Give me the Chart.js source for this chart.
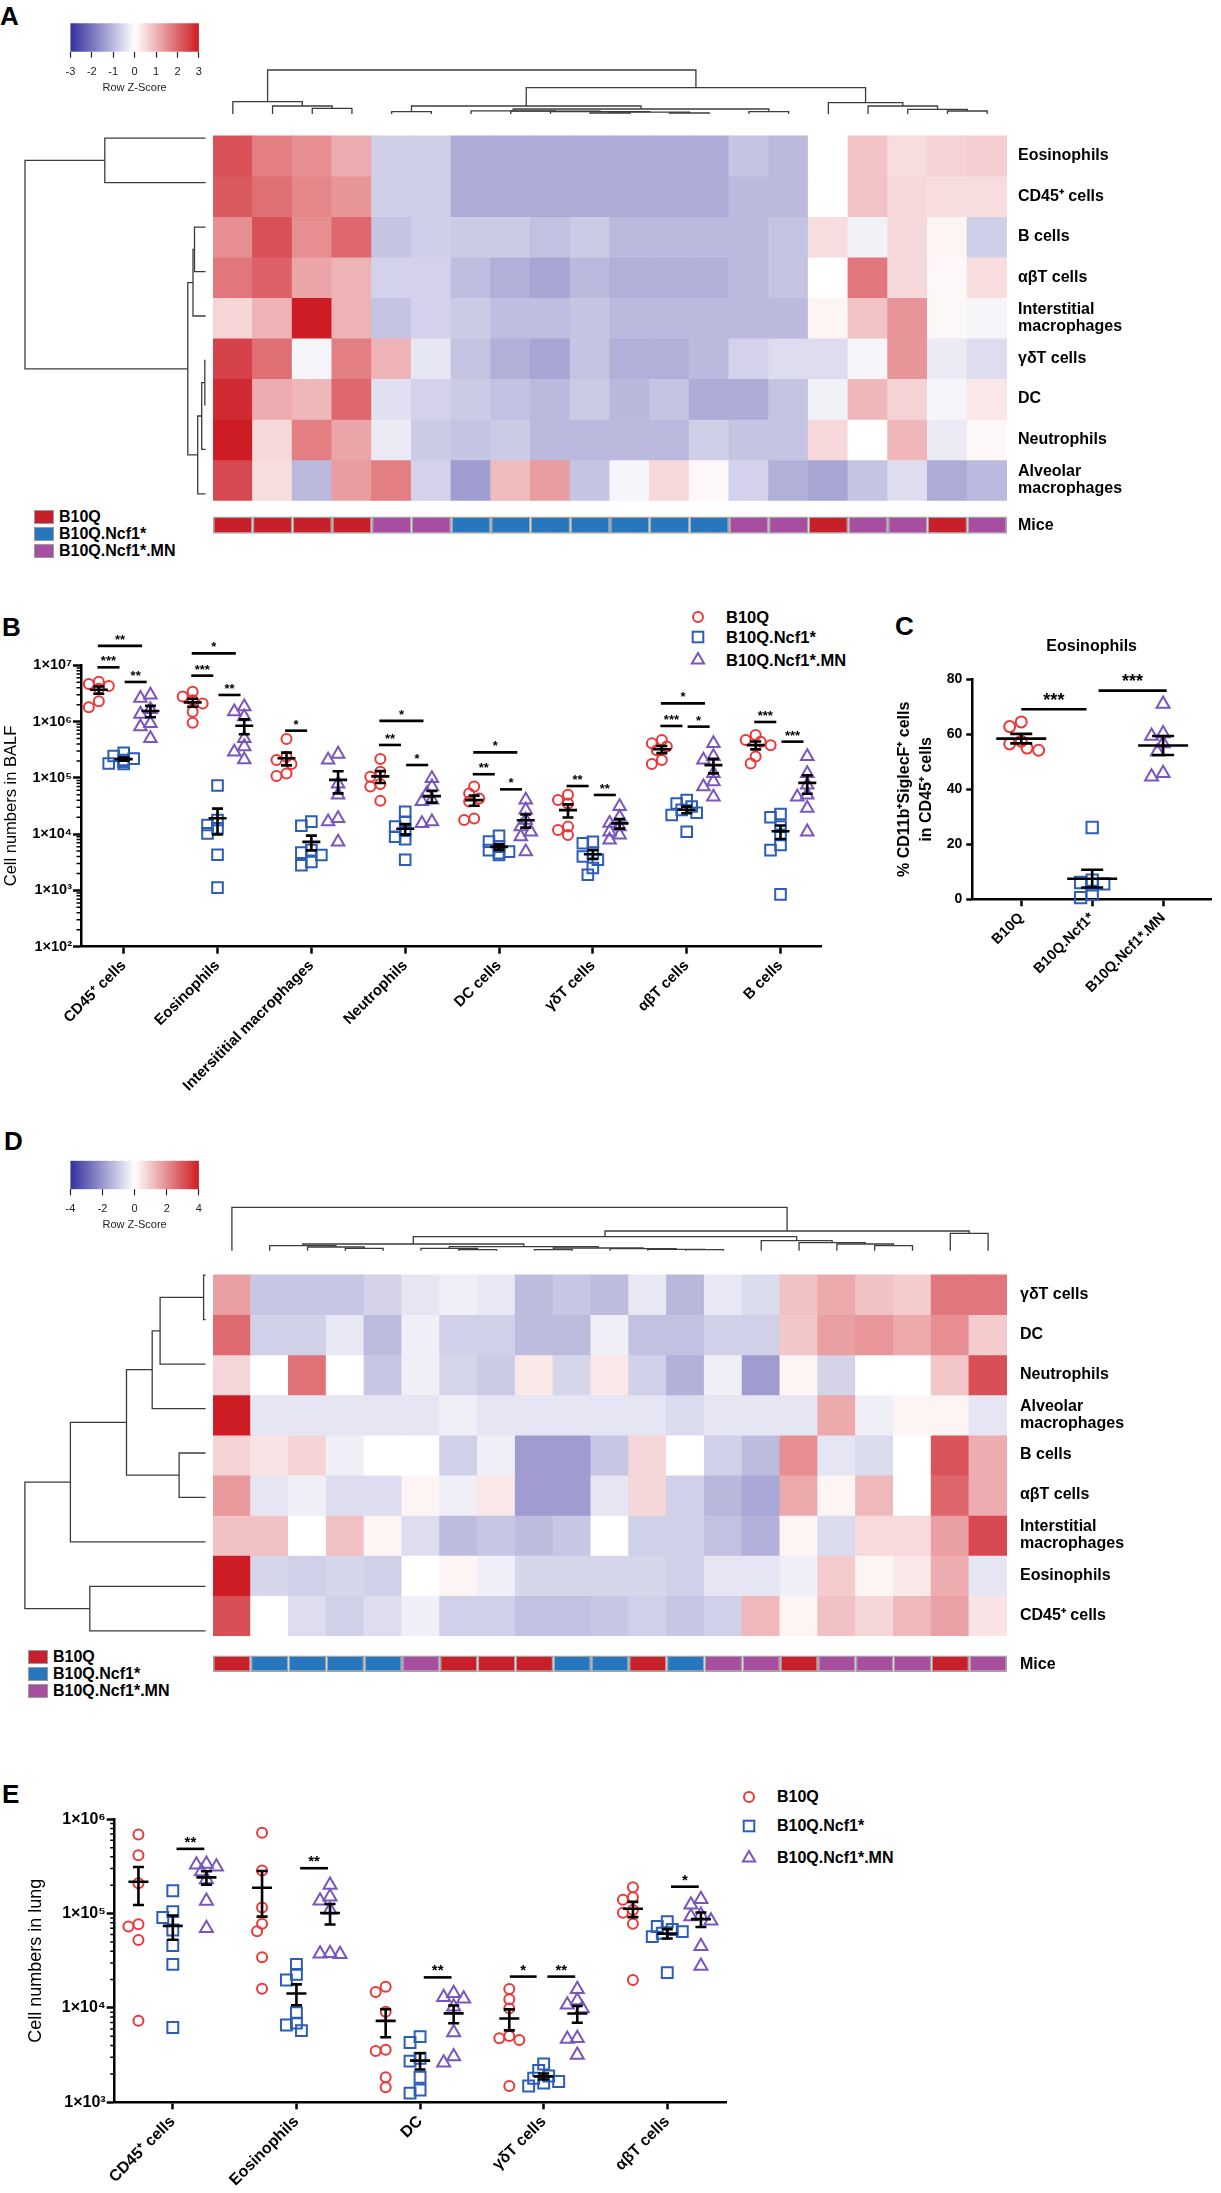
<!DOCTYPE html>
<html><head><meta charset="utf-8"><title>Figure</title>
<script src="https://cdn.jsdelivr.net/npm/chart.js@4.4.1/dist/chart.umd.min.js"></script>
<style>
html,body{margin:0;padding:0;background:#fff;}
body{position:relative;width:1221px;height:2193px;overflow:hidden;font-family:"Liberation Sans",Arial,Helvetica,sans-serif;color:#000;}
canvas{position:absolute;}
.t{position:absolute;white-space:nowrap;font-weight:bold;}
.letter{font-size:26px;line-height:26px;}
.lg{font-size:16px;line-height:16px;}
.box{position:absolute;border:1.5px solid #9b9b9b;box-sizing:border-box;width:20px;height:13.5px;}
svg{position:absolute;overflow:visible;}
</style></head><body>
<div class="t letter" style="left:0;top:3px">A</div>
<div class="t letter" style="left:2px;top:614px">B</div>
<div class="t letter" style="left:895px;top:613px">C</div>
<div class="t letter" style="left:4px;top:1128px">D</div>
<div class="t letter" style="left:2px;top:1781px">E</div>

<!-- heatmap annotation legends -->
<div class="box" style="left:34px;top:510px;background:#c8202a"></div>
<div class="box" style="left:34px;top:527px;background:#2677bd"></div>
<div class="box" style="left:34px;top:544px;background:#a84ea0"></div>
<div class="t lg" style="left:59px;top:509px">B10Q</div>
<div class="t lg" style="left:59px;top:526px">B10Q.Ncf1*</div>
<div class="t lg" style="left:59px;top:543px">B10Q.Ncf1*.MN</div>

<div class="box" style="left:28px;top:1650px;background:#c8202a"></div>
<div class="box" style="left:28px;top:1667px;background:#2677bd"></div>
<div class="box" style="left:28px;top:1684px;background:#a84ea0"></div>
<div class="t lg" style="left:53px;top:1649px">B10Q</div>
<div class="t lg" style="left:53px;top:1666px">B10Q.Ncf1*</div>
<div class="t lg" style="left:53px;top:1683px">B10Q.Ncf1*.MN</div>

<!-- B legend -->
<svg style="left:688px;top:607px" width="20" height="20"><circle cx="10" cy="10" r="5" fill="none" stroke="#ec3838" stroke-width="2"/></svg>
<svg style="left:688px;top:627px" width="20" height="20"><rect x="4.7" y="4.7" width="10.6" height="10.6" fill="none" stroke="#2c5db7" stroke-width="2"/></svg>
<svg style="left:688px;top:650px" width="20" height="20"><polygon points="10,3 16.1,13.5 3.9,13.5" fill="none" stroke="#7a55bd" stroke-width="2"/></svg>
<div class="t lg" style="left:726px;top:609px;font-size:16.5px">B10Q</div>
<div class="t lg" style="left:726px;top:629px;font-size:16.5px">B10Q.Ncf1*</div>
<div class="t lg" style="left:726px;top:652px;font-size:16.5px">B10Q.Ncf1*.MN</div>

<!-- E legend -->
<svg style="left:739px;top:1787px" width="20" height="20"><circle cx="10" cy="10" r="5" fill="none" stroke="#ec3838" stroke-width="2"/></svg>
<svg style="left:739px;top:1816px" width="20" height="20"><rect x="4.7" y="4.7" width="10.6" height="10.6" fill="none" stroke="#2c5db7" stroke-width="2"/></svg>
<svg style="left:739px;top:1848px" width="20" height="20"><polygon points="10,3 16.1,13.5 3.9,13.5" fill="none" stroke="#7a55bd" stroke-width="2"/></svg>
<div class="t lg" style="left:777px;top:1789px">B10Q</div>
<div class="t lg" style="left:777px;top:1818px">B10Q.Ncf1*</div>
<div class="t lg" style="left:777px;top:1850px">B10Q.Ncf1*.MN</div>

<script>
// ====================== DATA ======================
const groupNames = ['B10Q', 'B10Q.Ncf1*', 'B10Q.Ncf1*.MN'];

// ---- Panel A heatmap (row z-scores, BALF) ----
const aRowLabels = ['Eosinophils', 'CD45⁺ cells', 'B cells', 'αβT cells', ['Interstitial', 'macrophages'],
  'γδT cells', 'DC', 'Neutrophils', ['Alveolar', 'macrophages']];
const aMice = [0,0,0,0,2,2,1,1,1,1,1,1,1,2,2,0,2,2,0,2];
const aZ = [
  [2.3,1.7,1.5,1.1,-0.7,-0.7,-1.2,-1.2,-1.2,-1.2,-1.2,-1.2,-1.2,-0.85,-1.0,0,0.8,0.45,0.6,0.65],
  [2.2,1.9,1.6,1.4,-0.7,-0.7,-1.2,-1.2,-1.2,-1.2,-1.2,-1.2,-1.2,-1.0,-1.0,0,0.8,0.5,0.45,0.45],
  [1.5,2.3,1.5,2.0,-0.85,-0.7,-0.75,-0.75,-0.9,-0.75,-1.0,-1.0,-1.0,-1.0,-0.85,0.45,-0.2,0.5,0.15,-0.7],
  [1.8,2.1,1.2,1.0,-0.65,-0.65,-0.95,-1.15,-1.3,-1.0,-1.15,-1.15,-1.15,-1.0,-0.85,0,1.8,0.5,0.1,0.45],
  [0.55,1.0,3.0,1.0,-0.85,-0.65,-0.75,-0.95,-0.95,-0.85,-1.0,-1.0,-1.0,-1.0,-1.0,0.15,0.8,1.4,0.1,-0.15],
  [2.5,1.9,-0.15,1.7,1.0,-0.35,-0.85,-1.15,-1.3,-0.85,-1.15,-1.15,-1.0,-0.65,-0.5,-0.5,-0.15,1.4,-0.3,-0.5],
  [2.8,1.1,0.95,2.0,-0.45,-0.65,-0.75,-0.9,-1.0,-0.75,-1.05,-0.85,-1.2,-1.2,-0.85,-0.2,0.95,0.6,-0.15,0.3],
  [3.0,0.5,1.7,1.2,-0.3,-0.75,-0.85,-0.75,-1.0,-1.0,-1.0,-1.0,-0.7,-0.85,-0.85,0.5,0,0.95,-0.3,0.1],
  [2.4,0.45,-1.0,1.3,1.7,-0.65,-1.4,0.9,1.3,-0.85,-0.15,0.5,0.1,-0.65,-1.15,-1.3,-0.85,-0.5,-1.2,-1.0]
];
const aKeyTicks = [-3,-2,-1,0,1,2,3];
// linkage: [childA, childB, height]; leaves 0..n-1, merge k gets id n+k
const aRowLinkage = [[2,3,11.1],[9,4,12.6],[5,6,0.8],[11,7,3.9],[12,8,7.9],[10,13,17.8],[0,1,100.8],[15,14,180.6]];
const aColLinkage = [[2,3,5.7],[1,20,8],[0,21,12.3],[4,5,2.3],[9,10,1.0],[11,12,1.0],[24,25,1.8],[8,26,2.4],
  [7,27,2.8],[6,28,3.2],[13,14,2.3],[29,30,5],[23,31,8],[18,19,3],[17,33,4.7],[16,34,8],[15,35,11.3],[32,36,26.3],[22,37,44]];

// ---- Panel B: cell numbers in BALF ----
const bCats = ['CD45⁺ cells','Eosinophils','Intersititial macrophages','Neutrophils','DC cells','γδT cells','αβT cells','B cells'];
const bB10Q = [
  [5.1e6,4.65e6,4.3e6,3.85e6,2.3e6,1.8e6],
  [3.4e6,2.8e6,2.4e6,2.1e6,1.5e6,9.5e5],
  [4.9e5,2.38e5,2.08e5,1.77e5,1.2e5,1.08e5],
  [2.16e5,1.29e5,1.05e5,7.8e4,7e4,3.9e4],
  [7e4,5.3e4,4.3e4,3.8e4,1.9e4,1.78e4],
  [5e4,4.05e4,3.5e4,1.36e4,1.18e4,9.7e3],
  [4.7e5,4.1e5,3.6e5,3.1e5,2.08e5,1.76e5],
  [5.8e5,4.7e5,4.4e5,3.8e5,2.4e5,1.8e5]
];
const bNcf1 = [
  [2.8e5,2.45e5,2.2e5,2.08e5,1.94e5,1.8e5,1.77e5],
  [7.3e4,1.78e4,1.45e4,1.27e4,1.03e4,4.3e3,1.12e3],
  [1.67e4,1.41e4,5.2e3,4.7e3,4.25e3,3.2e3,2.8e3],
  [2.5e4,1.66e4,1.36e4,1.15e4,9e3,8.1e3,3.5e3],
  [9.3e3,7.35e3,6e3,5.2e3,4.9e3,4.6e3,4.26e3],
  [7.3e3,6.9e3,4.6e3,4e3,3.5e3,2.5e3,1.9e3],
  [4.05e4,3.5e4,3.1e4,2.7e4,2.4e4,2.19e4,1.1e4],
  [2.28e4,2e4,1.36e4,9.7e3,6.4e3,5.2e3,850]
];
const bMN = [
  [2.97e6,2.6e6,1.65e6,1.36e6,9.3e5,8.1e5,5.0e5],
  [1.84e6,1.5e6,1.22e6,5e5,3.6e5,2.9e5,2.1e5],
  [2.65e5,2.08e5,7.8e4,5e4,1.9e4,1.67e4,7.3e3],
  [9.8e4,7e4,5.3e4,4.05e4,3.8e4,1.66e4,1.55e4],
  [4.05e4,2.7e4,1.78e4,1.36e4,1.1e4,9e3,4.9e3],
  [3.1e4,2e4,1.56e4,1.36e4,1.1e4,9.7e3,7.9e3],
  [4.1e5,2.4e5,2.08e5,1.2e5,8.6e4,7e4,4.6e4],
  [2.4e5,1.2e5,7.5e4,5e4,4.6e4,2.9e4,1.1e4]
];
const bYTicks = [1e2,1e3,1e4,1e5,1e6,1e7];
const bYLabels = ['1×10²','1×10³','1×10⁴','1×10⁵','1×10⁶','1×10⁷'];
// [category, group1, group2, bar level, label]
const bSig = [
  [0,0,1,9.2e6,'***'],[0,0,2,2.21e7,'**'],[0,1,2,5.06e6,'**'],
  [1,0,1,6.55e6,'***'],[1,0,2,1.63e7,'*'],[1,1,2,2.97e6,'**'],
  [2,0,1,6.9e5,'*'],
  [3,0,1,3.84e5,'**'],[3,0,2,1.03e6,'*'],[3,1,2,1.69e5,'*'],
  [4,0,1,1.16e5,'**'],[4,0,2,2.84e5,'*'],[4,1,2,6.25e4,'*'],
  [5,0,1,7.16e4,'**'],[5,1,2,4.97e4,'**'],
  [6,0,2,2.11e6,'*'],[6,0,1,8.36e5,'***'],[6,1,2,8.13e5,'*'],
  [7,0,1,9.84e5,'***'],[7,1,2,4.4e5,'***']
];

// ---- Panel C: % CD11b+SiglecF+ eosinophils ----
const cCats = ['B10Q','B10Q.Ncf1*','B10Q.Ncf1*.MN'];
const cB10Q = [64.5,62.8,57.5,56.5,55,54.2];
const cNcf1 = [26.1,7.0,6.1,5.6,5.3,1.8,0.6];
const cMN = [71.0,60.3,59.4,56.7,53.7,45.8,44.6];
const cYTicks = [0,20,40,60,80];
const cSig = [[0,0,1,69.1,'***'],[0,1,2,75.9,'***']];

// ---- Panel D heatmap (row z-scores, lung) ----
const dRowLabels = ['γδT cells','DC','Neutrophils',['Alveolar','macrophages'],'B cells','αβT cells',
  ['Interstitial','macrophages'],'Eosinophils','CD45⁺ cells'];
const dMice = [0,1,1,1,1,2,0,0,0,1,1,0,1,2,2,0,2,2,2,0,2];
const dZ = [
  [1.7,-1.1,-1.1,-1.1,-0.85,-0.5,-0.3,-0.45,-1.3,-1.1,-1.3,-0.45,-1.4,-0.45,-0.7,1.1,1.5,1.1,0.9,2.4,2.4],
  [2.6,-0.9,-0.9,-0.45,-1.3,-0.3,-0.9,-0.9,-1.3,-1.3,-0.3,-1.2,-1.2,-0.9,-0.9,1.0,1.7,1.85,1.5,2.0,0.9],
  [0.7,0,2.5,0,-1.1,-0.3,-0.8,-1.0,0.4,-0.8,0.4,-0.9,-1.5,-0.3,-1.9,0.2,-0.85,0,0,1.0,3.1],
  [4.0,-0.5,-0.5,-0.5,-0.5,-0.5,-0.3,-0.5,-0.5,-0.5,-0.5,-0.5,-0.7,-0.5,-0.5,-0.5,1.5,-0.3,0.2,0.2,-0.5],
  [0.8,0.5,0.75,-0.3,0,0,-0.9,-0.3,-1.9,-1.9,-1.1,0.7,0,-0.9,-1.3,2.0,-0.5,-0.7,0,3.0,1.45],
  [1.8,-0.5,-0.3,-0.65,-0.65,0.2,-0.3,0.4,-1.9,-1.9,-0.5,0.7,-0.9,-1.4,-1.7,1.5,0.2,1.25,0,2.7,1.45],
  [1.1,1.1,0,1.1,0.2,-0.65,-1.3,-1.1,-1.3,-1.1,0,-0.9,-0.9,-1.2,-1.5,0.2,-0.7,0.65,0.65,1.7,3.2],
  [4.0,-0.8,-0.9,-0.8,-0.9,0,0.2,-0.3,-0.8,-0.8,-0.8,-0.8,-0.9,-0.5,-0.5,-0.3,0.9,0.2,0.4,1.45,-0.5],
  [3.1,0,-0.65,-0.9,-0.65,-0.3,-0.9,-0.9,-1.2,-1.2,-1.1,-0.9,-1.1,-0.9,1.25,0.2,1.1,0.7,1.25,1.65,0.5]
];
const dKeyTicks = [-4,-2,0,2,4];
const dRowLinkage = [[0,1,2],[9,2,45.5],[10,3,53.4],[4,5,26.5],[11,12,79.1],[13,6,135.2],[7,8,115.8],[14,15,180.7]];
const dColLinkage = [[3,4,2.4],[2,21,3.7],[1,22,5],[6,7,1],[5,24,2.4],[8,9,1],[12,13,1],[11,27,1.4],[10,28,2],
  [26,29,2.7],[25,30,4],[23,31,6.7],[17,18,5],[16,33,6.7],[15,34,8],[14,35,10],[32,36,14],[19,20,17.4],[37,38,19.7],[0,39,43.4]];

// ---- Panel E: cell numbers in lung ----
const eCats = ['CD45⁺ cells','Eosinophils','DC','γδT cells','αβT cells'];
const eB10Q = [
  [6.9e5,4.15e5,2.1e5,7.7e4,7.3e4,5.25e4,7.3e3],
  [7.2e5,2.86e5,1.16e5,7.8e4,6.5e4,3.44e4,1.6e4],
  [1.68e4,1.48e4,9.1e3,3.6e3,3.5e3,1.84e3,1.44e3],
  [1.59e4,1.24e4,9.9e3,5.05e3,4.77e3,4.58e3,1.49e3],
  [1.9e5,1.49e5,1.4e5,1.09e5,1.02e5,7.8e4,1.98e4]
];
const eNcf1 = [
  [1.75e5,1.05e5,9.1e4,6.7e4,4.6e4,2.9e4,6.2e3],
  [2.9e4,2.27e4,1.98e4,8.9e3,6.9e3,6.6e3,5.75e3],
  [4.97e3,4.3e3,2.93e3,2.73e3,1.84e3,1.35e3,1.25e3],
  [2.55e3,2.17e3,1.9e3,1.8e3,1.66e3,1.6e3,1.49e3],
  [8.2e4,7.3e4,6.8e4,6.45e4,6.2e4,5.7e4,2.37e4]
];
const eMN = [
  [3.36e5,3.3e5,3.15e5,2.79e5,2.3e5,1.36e5,7e4],
  [2.01e5,1.51e5,1.37e5,1.09e5,3.8e4,3.75e4,3.7e4],
  [1.43e4,1.3e4,1.25e4,1.03e4,5.5e3,3.05e3,2.63e3],
  [1.58e4,1.2e4,1.08e4,9.9e3,4.77e3,4.7e3,3.18e3],
  [1.42e5,1.24e5,9.7e4,9.3e4,8.4e4,4.5e4,2.79e4]
];
const eYTicks = [1e3,1e4,1e5,1e6];
const eYLabels = ['1×10³','1×10⁴','1×10⁵','1×10⁶'];
const eSig = [[0,1,2,4.86e5,'**'],[1,1,2,3.03e5,'**'],[2,1,2,2.11e4,'**'],[3,0,1,2.15e4,'*'],[3,1,2,2.15e4,'**'],[4,1,2,1.93e5,'*']];

// ====================== RENDERING ======================
Chart.defaults.font.family = '"Liberation Sans", Arial, Helvetica, sans-serif';
Chart.defaults.color = '#000';
Chart.defaults.animation = false;
Chart.defaults.responsive = false;
Chart.defaults.maintainAspectRatio = false;
Chart.defaults.plugins.legend.display = false;
Chart.defaults.plugins.tooltip.enabled = false;
Chart.defaults.events = [];

const BLUE_END = [52,48,156], RED_END = [205,28,36];
function zColor(z, zmax){
  const t = Math.max(-1, Math.min(1, z / zmax));
  const c = t < 0 ? BLUE_END : RED_END, f = Math.abs(t);
  return 'rgb(' + c.map(v => Math.round(255 + (v - 255) * f)).join(',') + ')';
}
const miceColors = ['#c8202a','#2677bd','#a84ea0'];

function mkCanvas(left, top, w, h){
  const c = document.createElement('canvas');
  c.width = w; c.height = h;
  Object.assign(c.style, {left: left+'px', top: top+'px', width: w+'px', height: h+'px'});
  document.body.appendChild(c);
  return c;
}

function drawHeatmap(left, top, width, height, plotW, z, zmax, mice, rowLabels, miceRange, miceTick, labelPad){
  const cv = mkCanvas(left, top, width, height);
  const ds = z.map((row, r) => ({
    data: row.map(() => [r, r + 1]),
    backgroundColor: row.map(v => zColor(v, zmax)),
    borderWidth: 0, inflateAmount: 0.6, grouped: false, barPercentage: 1, categoryPercentage: 1
  }));
  ds.push({
    data: mice.map(() => miceRange),
    backgroundColor: mice.map(g => miceColors[g]),
    borderColor: '#a3a3a3', borderWidth: 1.4, borderSkipped: false, inflateAmount: 0,
    grouped: false, barPercentage: 1, categoryPercentage: 1
  });
  const labels = rowLabels.concat(['Mice']);
  const tickVals = rowLabels.map((_, i) => i + 0.5).concat([miceTick]);
  new Chart(cv, {
    type: 'bar',
    data: {labels: mice.map((_, i) => 'S' + (i + 1)), datasets: ds},
    options: {
      layout: {padding: 0},
      scales: {
        x: {display: false},
        y: {position: 'right', min: 0, max: 10, reverse: true,
          grid: {display: false, drawTicks: false}, border: {display: false},
          afterBuildTicks: s => { s.ticks = tickVals.map(v => ({value: v})); },
          afterFit: s => { s.width = width - plotW; },
          ticks: {padding: labelPad, autoSkip: false, color: '#000',
            font: {size: 16, weight: 'bold', lineHeight: 1.05},
            callback: (v, i) => labels[i]}}
      }
    }
  });
}

function drawKey(left, top, w, h, padL, padR, padT, axisH, ticks, tickPad, titlePadB){
  const cv = mkCanvas(left, top, w, h);
  new Chart(cv, {
    type: 'bar',
    data: {labels: ['key'], datasets: [{
      data: [[ticks[0], ticks[ticks.length - 1]]],
      backgroundColor: (c) => {
        const ch = c.chart, a = ch.chartArea;
        if (!a) return '#ffffff';
        const g = ch.ctx.createLinearGradient(a.left, 0, a.right, 0);
        g.addColorStop(0, zColor(-1, 1)); g.addColorStop(0.5, '#ffffff'); g.addColorStop(1, zColor(1, 1));
        return g;
      },
      borderWidth: 0, barPercentage: 1, categoryPercentage: 1
    }]},
    options: {
      indexAxis: 'y',
      layout: {padding: {left: padL, right: padR, top: padT, bottom: 0}},
      scales: {
        y: {display: false},
        x: {min: ticks[0], max: ticks[ticks.length - 1],
          afterBuildTicks: s => { s.ticks = ticks.map(v => ({value: v})); },
          afterFit: s => { s.height = axisH; },
          grid: {drawOnChartArea: false, drawTicks: true, tickLength: 6, tickWidth: 1.2, tickColor: '#222'},
          border: {display: false},
          ticks: {padding: tickPad, font: {size: 11}, color: '#222', autoSkip: false, maxRotation: 0},
          title: {display: true, text: 'Row Z-Score', font: {size: 11}, color: '#222', padding: {top: 0, bottom: titlePadB}}}
      }
    }
  });
}

function drawDendro(left, top, w, h, n, links, orient, lo, hi){
  const cv = mkCanvas(left, top, w, h);
  const pos = [], ht = [];
  for (let i = 0; i < n; i++) { pos.push(i + 0.5); ht.push(0); }
  links.forEach(([a, b, hh]) => { pos.push((pos[a] + pos[b]) / 2); ht.push(hh); });
  const ds = links.map(([a, b, hh]) => {
    const pts = [[pos[a], ht[a]], [pos[a], hh], [pos[b], hh], [pos[b], ht[b]]];
    return {data: pts.map(([p, q]) => orient === 'col' ? {x: p, y: q} : {x: q, y: p}),
      showLine: true, pointRadius: 0, borderColor: '#3c3c3c', borderWidth: 1.3, clip: false, tension: 0};
  });
  const posAxis = {type: 'linear', display: false, min: 0, max: n};
  const hAxis = {type: 'linear', display: false, min: lo, max: hi};
  new Chart(cv, {type: 'scatter', data: {datasets: ds}, options: {layout: {padding: 0},
    scales: orient === 'col' ? {x: posAxis, y: hAxis} : {x: Object.assign({}, hAxis, {reverse: true}), y: Object.assign({}, posAxis, {reverse: true})}}});
}

function swarm(vals, toPx, catPx, dMin, step){
  const placed = [], off = [];
  vals.forEach(v => {
    const py = toPx(v); let chosen = 0;
    for (const c of [0,-1,1,-2,2,-3,3]) {
      const px = c * step;
      if (placed.every(p => Math.hypot(p[0] - px, p[1] - py) >= dMin)) { chosen = px; break; }
    }
    placed.push([chosen, py]); off.push(chosen / catPx);
  });
  return off;
}

function statsPlugin(o){
  return {
    id: 'dotstats',
    afterDatasetsDraw(chart){
      const xs = chart.scales.x, ys = chart.scales.y, ctx = chart.ctx;
      ctx.save();
      ctx.strokeStyle = '#000'; ctx.fillStyle = '#000'; ctx.lineWidth = 2.6; ctx.lineCap = 'butt';
      o.groups.forEach((g, gi) => g.forEach((vals, ci) => {
        const n = vals.length, m = vals.reduce((a, b) => a + b, 0) / n;
        const sd = Math.sqrt(vals.reduce((a, b) => a + (b - m) * (b - m), 0) / (n - 1));
        const se = sd / Math.sqrt(n);
        const x = xs.getPixelForValue(ci + o.gpos[gi]);
        const ym = ys.getPixelForValue(m), yh = ys.getPixelForValue(m + se), yl = ys.getPixelForValue(Math.max(m - se, m * 0.05));
        ctx.beginPath();
        ctx.moveTo(x - o.meanHalf, ym); ctx.lineTo(x + o.meanHalf, ym);
        ctx.moveTo(x, yl); ctx.lineTo(x, yh);
        ctx.moveTo(x - o.capHalf, yh); ctx.lineTo(x + o.capHalf, yh);
        ctx.moveTo(x - o.capHalf, yl); ctx.lineTo(x + o.capHalf, yl);
        ctx.stroke();
      }));
      ctx.lineWidth = 2.6;
      ctx.font = 'bold ' + o.sigFont + 'px "Liberation Sans", Arial, sans-serif';
      ctx.textAlign = 'center'; ctx.textBaseline = 'alphabetic';
      o.sig.forEach(([ci, g1, g2, val, lab]) => {
        const [a, b] = o.sigX(g1, g2);
        const x1 = xs.getPixelForValue(ci + a), x2 = xs.getPixelForValue(ci + b), y = ys.getPixelForValue(val);
        ctx.beginPath(); ctx.moveTo(x1, y); ctx.lineTo(x2, y); ctx.stroke();
        ctx.fillText(lab, (x1 + x2) / 2, y - o.sigBase);
      });
      if (o.yMinor) {
        ctx.lineWidth = 1.5; ctx.beginPath();
        o.yMinor.forEach(v => { const y = ys.getPixelForValue(v); ctx.moveTo(ys.right - 4.5, y); ctx.lineTo(ys.right, y); });
        ctx.stroke();
      }
      ctx.restore();
    }
  };
}

function minorLog(lo, hi){
  const out = [];
  for (let d = lo; d < hi; d *= 10) for (let k = 2; k <= 9; k++) out.push(k * d);
  return out;
}

function dotPlot(o){
  const cv = mkCanvas(o.left, o.top, o.w, o.h);
  const sty = [['circle', '#ec3838'], ['rect', '#2c5db7'], ['triangle', '#7a55bd']];
  const datasets = o.groups.map((g, gi) => {
    const pts = [];
    g.forEach((vals, ci) => {
      const off = swarm(vals, o.toPx, o.catPx, o.dMin, o.step);
      vals.forEach((v, k) => pts.push({x: ci + o.gpos[gi] + off[k], y: v}));
    });
    return {label: groupNames[gi], data: pts, pointStyle: sty[gi][0], pointRadius: o.r[gi],
      pointBorderWidth: 2, pointBorderColor: sty[gi][1], pointBackgroundColor: 'rgba(255,255,255,0)',
      borderColor: sty[gi][1], backgroundColor: 'rgba(255,255,255,0)', showLine: false, clip: false};
  });
  new Chart(cv, {
    type: 'scatter',
    data: {datasets},
    plugins: [statsPlugin(o)],
    options: {
      layout: {padding: {top: o.padT, right: o.padR, left: 0, bottom: 0}},
      plugins: {title: o.title || {display: false}},
      scales: {
        x: {type: 'linear', min: o.xMin, max: o.xMax,
          afterBuildTicks: s => { s.ticks = o.cats.map((_, i) => ({value: i})); },
          afterFit: s => { s.height = o.xAxisH; },
          grid: {drawOnChartArea: false, drawTicks: true, tickLength: 7, tickWidth: 2.5, tickColor: '#000'},
          border: {display: true, width: 2.5, color: '#000'},
          ticks: {autoSkip: false, maxRotation: 45, minRotation: 45, padding: o.xPad, font: o.xFont, color: '#000',
            callback: v => o.cats[Math.round(v)]}},
        y: {type: o.yType, min: o.yMin, max: o.yMax,
          afterBuildTicks: s => { s.ticks = o.yMajor.map(v => ({value: v})); },
          afterFit: s => { s.width = o.yAxisW; },
          grid: {drawOnChartArea: false, drawTicks: true, tickLength: o.yTickLen, tickWidth: 2.5, tickColor: '#000'},
          border: {display: true, width: 2.5, color: '#000'},
          ticks: {autoSkip: false, padding: o.yTickPad, font: o.yTickFont, color: '#000', callback: (v, i) => o.yLabels[i]},
          title: {display: true, text: o.yTitle, font: o.yTitleFont, color: '#000', padding: {top: o.yTitlePad, bottom: 0}}}
      }
    }
  });
}

// ---- Panel A ----
drawKey(50, 18, 170, 82, 20.4, 21.1, 5.3, 48.3, aKeyTicks, 8, 5.4);
drawDendro(213, 66, 794, 50, 20, aColLinkage, 'col', -2, 48);
drawDendro(20, 116, 195, 400, 9, aRowLinkage, 'row', -9.4, 185.6);
drawHeatmap(213, 116, 1008, 444, 794, aZ, 3, aMice, aRowLabels, [9.405, 9.83], 9.62, 11);

// ---- Panel B ----
dotPlot({left: 0, top: 590, w: 840, h: 510, yAxisW: 81, padT: 75.3, padR: 18.2, xAxisH: 153.3,
  xMin: -0.455, xMax: 7.44, cats: bCats, groups: [bB10Q, bNcf1, bMN], gpos: [-0.265, 0, 0.285],
  yType: 'logarithmic', yMin: 100, yMax: 1e7, yMajor: bYTicks, yLabels: bYLabels, yMinor: minorLog(100, 1e7),
  yTickLen: 8, yTickPad: 1, yTickFont: {size: 14.5, weight: 'bold'},
  yTitle: 'Cell numbers in BALF', yTitleFont: {size: 16.5, lineHeight: 1.2}, yTitlePad: 1.2,
  xFont: {size: 15, weight: 'bold'}, xPad: 3,
  toPx: v => Math.log10(v) * 56.3, catPx: 93.8, dMin: 8, step: 5, r: [5, 7.5, 7.2],
  meanHalf: 9, capHalf: 5.5, sig: bSig, sigFont: 13, sigBase: 2,
  sigX: (g1, g2) => (g1 === 0 && g2 === 1) ? [-0.28, -0.045] : (g1 === 1 ? [0.01, 0.245] : [-0.275, 0.195])});

// ---- Panel C ----
dotPlot({left: 880, top: 600, w: 341, h: 480, yAxisW: 92.3, padT: 0, padR: 1, xAxisH: 180.7,
  xMin: -0.69, xMax: 2.675, cats: cCats, groups: [[cB10Q], [cNcf1], [cMN]], gpos: [0, 1, 2],
  yType: 'linear', yMin: 0, yMax: 80, yMajor: cYTicks, yLabels: cYTicks.map(String), yMinor: null,
  yTickLen: 6, yTickPad: 4, yTickFont: {size: 14, weight: 'bold'},
  yTitle: ['% CD11b⁺SiglecF⁺ cells', 'in CD45⁺ cells'], yTitleFont: {size: 16, weight: 'bold', lineHeight: 1.35}, yTitlePad: 14.2,
  xFont: {size: 14.5, weight: 'bold'}, xPad: 3,
  toPx: v => v * 2.75, catPx: 73.6, dMin: 9, step: 6, r: [5.5, 8, 7.5],
  meanHalf: 25, capHalf: 11, sig: cSig, sigFont: 18, sigBase: 3.5,
  sigX: (g1, g2) => g1 === 0 ? [0, 0.92] : [1.09, 2.05],
  title: {display: true, text: 'Eosinophils', fullSize: false, color: '#000',
    font: {size: 16, weight: 'bold', lineHeight: 1.2}, padding: {top: 37, bottom: 23.1}}});

// ---- Panel D ----
drawKey(50, 1155, 170, 82, 20.4, 21.1, 5.7, 47.7, dKeyTicks, 7.5, 5.3);
drawDendro(213, 1203, 794, 50, 21, dColLinkage, 'col', -2.3, 47.7);
drawDendro(20, 1253, 195, 400, 9, dRowLinkage, 'row', -9.4, 185.6);
drawHeatmap(213, 1253, 1008, 444, 794, dZ, 4, dMice, dRowLabels, [9.5, 9.91], 9.72, 13);

// ---- Panel E ----
dotPlot({left: 0, top: 1780, w: 740, h: 413, yAxisW: 114.7, padT: 39.3, padR: 14, xAxisH: 90.7,
  xMin: -0.47, xMax: 4.475, cats: eCats, groups: [eB10Q, eNcf1, eMN], gpos: [-0.278, 0, 0.272],
  yType: 'logarithmic', yMin: 1e3, yMax: 1e6, yMajor: eYTicks, yLabels: eYLabels, yMinor: minorLog(1e3, 1e6),
  yTickLen: 8, yTickPad: 1, yTickFont: {size: 16, weight: 'bold'},
  yTitle: 'Cell numbers in lung', yTitleFont: {size: 18, lineHeight: 1.2}, yTitlePad: 24.8,
  xFont: {size: 16, weight: 'bold'}, xPad: 3,
  toPx: v => Math.log10(v) * 94.3, catPx: 123.6, dMin: 8, step: 5, r: [5, 7.7, 7.5],
  meanHalf: 10, capHalf: 5.5, sig: eSig, sigFont: 15, sigBase: 2,
  sigX: (g1, g2) => (g1 === 0 && g2 === 1) ? [-0.274, -0.057] : [0.03, 0.255]});
</script>
</body></html>
